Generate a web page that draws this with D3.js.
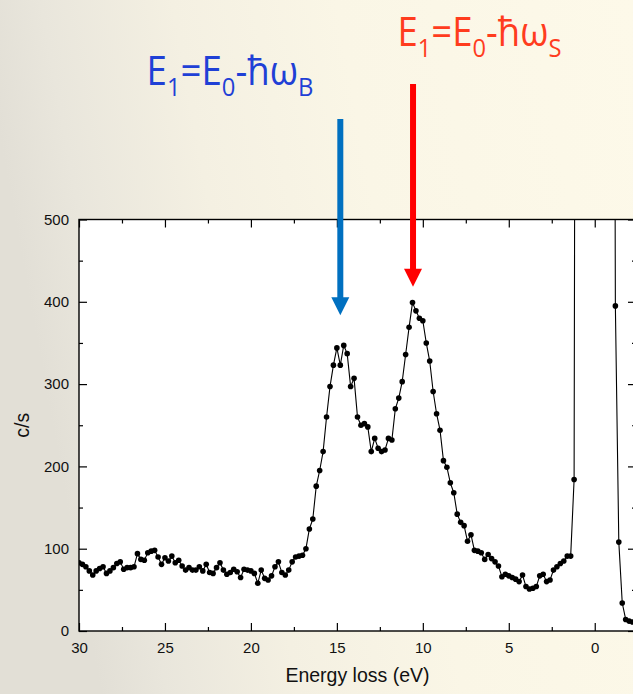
<!DOCTYPE html>
<html>
<head>
<meta charset="utf-8">
<script src="https://cdn.jsdelivr.net/npm/d3@7"></script>
<style>
  html, body { margin: 0; padding: 0; overflow: hidden; background: #f6f2e4; }
  svg { display: block; }
</style>
</head>
<body>
<svg id="chart" width="633" height="694"></svg>
<script>
// Electron energy-loss spectrum: counts per second versus energy loss (eV)
const lossEV = [
  30.0, 29.8, 29.6, 29.4, 29.2, 29.0, 28.8, 28.6, 28.4, 28.2,
  28.0, 27.8, 27.6, 27.4, 27.2, 27.0, 26.8, 26.6, 26.4, 26.2,
  26.0, 25.8, 25.6, 25.4, 25.2, 25.0, 24.8, 24.6, 24.4, 24.2,
  24.0, 23.8, 23.6, 23.4, 23.2, 23.0, 22.8, 22.6, 22.4, 22.2,
  22.0, 21.8, 21.6, 21.4, 21.2, 21.0, 20.8, 20.6, 20.4, 20.2,
  20.0, 19.8, 19.6, 19.4, 19.2, 19.0, 18.8, 18.6, 18.4, 18.2,
  18.0, 17.8, 17.6, 17.4, 17.2, 17.0, 16.8, 16.6, 16.4, 16.2,
  16.0, 15.8, 15.6, 15.4, 15.2, 15.0, 14.8, 14.6, 14.4, 14.2,
  14.0, 13.8, 13.6, 13.4, 13.2, 13.0, 12.8, 12.6, 12.4, 12.2,
  12.0, 11.8, 11.6, 11.4, 11.2, 11.0, 10.8, 10.6, 10.4, 10.2,
  10.0, 9.8, 9.6, 9.4, 9.2, 9.0, 8.8, 8.6, 8.4, 8.2,
  8.0, 7.8, 7.6, 7.4, 7.2, 7.0, 6.8, 6.6, 6.4, 6.2,
  6.0, 5.8, 5.6, 5.4, 5.2, 5.0, 4.8, 4.6, 4.4, 4.2,
  4.0, 3.8, 3.6, 3.4, 3.2, 3.0, 2.8, 2.6, 2.4, 2.2,
  2.0, 1.8, 1.6, 1.4, 1.2, 1.0, 0.8, 0.6, 0.4, 0.2,
  0.0, -0.2, -0.4, -0.6, -0.8, -1.0, -1.2, -1.4, -1.6, -1.8,
  -2.0, -2.2
];

// counts per second; the elastic (zero-loss) peak runs far above the axis limit
const countsPerSec = [
  83, 81, 78, 73, 68, 73, 76, 78, 70, 73,
  77, 82, 84, 75, 77, 77, 78, 94, 87, 86,
  95, 97, 98, 90, 81, 89, 85, 91, 83, 86,
  79, 74, 77, 74, 74, 78, 73, 81, 71, 70,
  77, 83, 74, 69, 71, 75, 72, 65, 75, 74,
  73, 70, 58, 74, 64, 62, 67, 78, 84, 71,
  68, 74, 84, 90, 91, 92, 100, 124, 136, 176,
  195, 218, 260, 297, 323, 344, 323, 347, 337, 297,
  307, 260, 250, 252, 248, 218, 234, 222, 218, 220,
  234, 232, 270, 283, 303, 336, 369, 399, 389, 380,
  377, 350, 328, 291, 264, 244, 207, 199, 180, 168,
  142, 132, 128, 109, 117, 98, 97, 95, 87, 93,
  88, 84, 79, 66, 69, 67, 65, 63, 60, 68,
  54, 51, 52, 54, 67, 69, 60, 62, 74, 78,
  82, 85, 91, 91, 184, 2400, 9000, 21000, 36000, 47000,
  50000, 45000, 33000, 19000, 7500, 2100, 395, 108, 34, 14,
  12, 11
];

const xMajorTicks = [30, 25, 20, 15, 10, 5, 0];
const xMinorTicks = [27.5, 22.5, 17.5, 12.5, 7.5, 2.5, -2.5];
const yMajorTicks = [0, 100, 200, 300, 400, 500];
const yMinorTicks = [50, 150, 250, 350, 450];

// arrow annotations: energy position and the count range the arrow spans
const arrowNames = ["bulk", "surface"];
const arrowLoss = [14.8, 10.57];
const arrowFrom = [622, 664.6];
const arrowTo = [383.6, 418.3];
const arrowColors = ["#0070c0", "#ff0000"];

const labelMain = [["E", "=E", "-\u0127\u03c9"], ["E", "=E", "-\u0127\u03c9"]];
const labelSubs = [["1", "0", "B"], ["1", "0", "S"]];
const labelColors = ["#1f40d6", "#ff3c1e"];

const W = 633, H = 694;
const box = { left: 79, right: 636, top: 219.5, bottom: 631 };

const svg = d3.select("#chart");
const defs = svg.append("defs");

// slide-style background
const grad = defs.append("linearGradient")
  .attr("id", "bgGrad").attr("x1", "0").attr("y1", "0.2").attr("x2", "1").attr("y2", "0");
[[0, "#e2dfd6"], [0.1, "#e9e6dc"], [0.3, "#f4f0e2"], [0.55, "#faf6e6"], [1, "#fdf9e9"]]
  .forEach(([o, c]) => grad.append("stop").attr("offset", o).attr("stop-color", c));
svg.append("rect").attr("width", W).attr("height", H).attr("fill", "url(#bgGrad)");

const x = d3.scaleLinear().domain([30, -2.4]).range([box.left, box.right]);
const y = d3.scaleLinear().domain([0, 500]).range([box.bottom, box.top]);

// plot area
svg.append("rect")
  .attr("x", box.left).attr("y", box.top)
  .attr("width", box.right - box.left).attr("height", box.bottom - box.top)
  .attr("fill", "#ffffff");

defs.append("clipPath").attr("id", "plotClip")
  .append("rect")
  .attr("x", box.left).attr("y", box.top)
  .attr("width", box.right - box.left).attr("height", box.bottom - box.top);

const points = lossEV.map((e, i) => ({ e, c: countsPerSec[i] }));

const plot = svg.append("g").attr("clip-path", "url(#plotClip)");

plot.append("path")
  .datum(points)
  .attr("fill", "none")
  .attr("stroke", "#000")
  .attr("stroke-width", 1.1)
  .attr("d", d3.line().x(d => x(d.e)).y(d => y(d.c)));

plot.selectAll("circle.pt")
  .data(points.filter(d => d.c <= 520))
  .join("circle")
  .attr("class", "pt")
  .attr("cx", d => x(d.e))
  .attr("cy", d => y(d.c))
  .attr("r", 2.8)
  .attr("fill", "#000");

// axes with inward ticks
const tickFont = "'Liberation Sans', Arial, Helvetica, sans-serif";

function styleAxis(g) {
  g.select(".domain").remove();
  g.selectAll(".tick line").attr("stroke", "#000").attr("stroke-width", 1.2);
  g.selectAll(".tick text").attr("fill", "#111").style("font-family", tickFont).style("font-size", "15px");
}

svg.append("g").attr("transform", `translate(0,${box.bottom})`)
  .call(d3.axisBottom(x).tickValues(xMajorTicks).tickSize(-8).tickPadding(11).tickFormat(d3.format("d")))
  .call(styleAxis);
svg.append("g").attr("transform", `translate(0,${box.bottom})`)
  .call(d3.axisBottom(x).tickValues(xMinorTicks).tickSize(-4).tickFormat(""))
  .call(styleAxis);
svg.append("g").attr("transform", `translate(0,${box.top})`)
  .call(d3.axisTop(x).tickValues(xMajorTicks).tickSize(-8).tickFormat(""))
  .call(styleAxis);
svg.append("g").attr("transform", `translate(0,${box.top})`)
  .call(d3.axisTop(x).tickValues(xMinorTicks).tickSize(-4).tickFormat(""))
  .call(styleAxis);

svg.append("g").attr("transform", `translate(${box.left},0)`)
  .call(d3.axisLeft(y).tickValues(yMajorTicks).tickSize(-8).tickPadding(10).tickFormat(d3.format("d")))
  .call(styleAxis);
svg.append("g").attr("transform", `translate(${box.left},0)`)
  .call(d3.axisLeft(y).tickValues(yMinorTicks).tickSize(-4).tickFormat(""))
  .call(styleAxis);
svg.append("g").attr("transform", `translate(${box.right},0)`)
  .call(d3.axisRight(y).tickValues(yMajorTicks).tickSize(-8).tickFormat(""))
  .call(styleAxis);
svg.append("g").attr("transform", `translate(${box.right},0)`)
  .call(d3.axisRight(y).tickValues(yMinorTicks).tickSize(-4).tickFormat(""))
  .call(styleAxis);

// frame
svg.append("rect")
  .attr("x", box.left).attr("y", box.top)
  .attr("width", box.right - box.left).attr("height", box.bottom - box.top)
  .attr("fill", "none").attr("stroke", "#000").attr("stroke-width", 1.4);

// axis titles
svg.append("text")
  .attr("x", (box.left + box.right) / 2).attr("y", 682)
  .attr("text-anchor", "middle")
  .style("font-family", tickFont).style("font-size", "19.5px").attr("fill", "#111")
  .text("Energy loss (eV)");

svg.append("text")
  .attr("transform", `translate(29,${(box.top + box.bottom) / 2}) rotate(-90)`)
  .attr("text-anchor", "middle")
  .style("font-family", tickFont).style("font-size", "19.5px").attr("fill", "#111")
  .text("c/s");

// arrows
const headLen = 18, headHalf = 9, shaftW = 6;
arrowNames.forEach((name, i) => {
  const ax = x(arrowLoss[i]);
  const yTop = y(arrowFrom[i]);
  const yTip = y(arrowTo[i]);
  const g = svg.append("g").attr("class", "arrow-" + name);
  g.append("line")
    .attr("x1", ax).attr("x2", ax)
    .attr("y1", yTop).attr("y2", yTip - headLen + 1)
    .attr("stroke", arrowColors[i]).attr("stroke-width", shaftW);
  g.append("path")
    .attr("d", `M${ax - headHalf},${yTip - headLen} L${ax + headHalf},${yTip - headLen} L${ax},${yTip} Z`)
    .attr("fill", arrowColors[i]);
});

// energy relation labels
const labelFont = "'Open Sans', 'Noto Sans', sans-serif";
const labelAnchor = [[146.5, 85], [397.5, 46]];
const labelWidth = [167, 164];
labelMain.forEach((parts, i) => {
  const g = svg.append("g");
  const t = g.append("text")
    .attr("x", 0).attr("y", 0)
    .attr("fill", labelColors[i])
    .style("font-family", labelFont)
    .style("font-size", "40px");
  parts.forEach((p, k) => {
    t.append("tspan").attr("dy", k === 0 ? 0 : -11).text(p);
    t.append("tspan").attr("dy", 11).style("font-size", "26px").text(labelSubs[i][k]);
  });
  const w = t.node().getBBox().width;
  g.attr("transform", `translate(${labelAnchor[i][0]},${labelAnchor[i][1]}) scale(${labelWidth[i] / w},1)`);
});
</script>
</body>
</html>
